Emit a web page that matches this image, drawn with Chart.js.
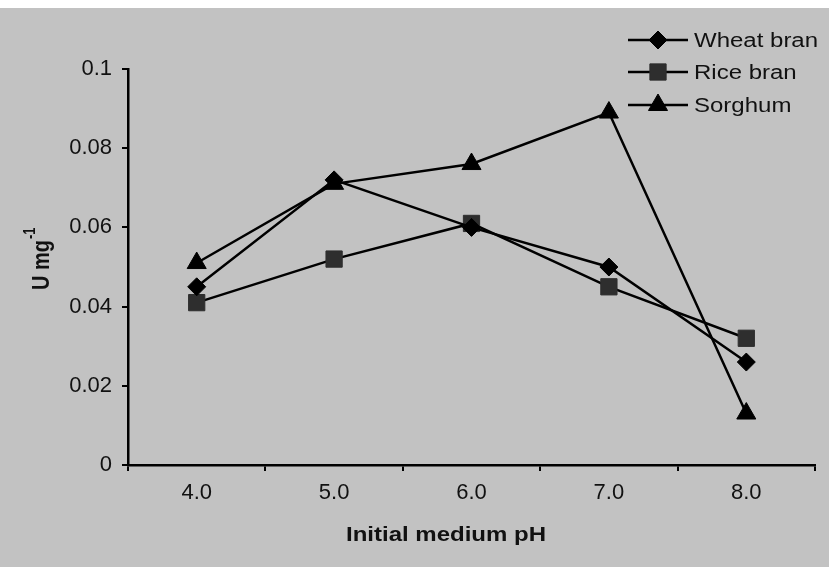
<!DOCTYPE html>
<html>
<head>
<meta charset="utf-8">
<script src="https://cdn.jsdelivr.net/npm/chart.js@4.4.1/dist/chart.umd.min.js"></script>
<style>
  html, body { margin: 0; padding: 0; }
  body {
    width: 829px; height: 567px; overflow: hidden;
    background: linear-gradient(#ffffff 0 8px, #c2c2c2 8px);
  }
  #chart { display: block; }
</style>
</head>
<body>
<canvas id="chart" width="829" height="567"></canvas>
<script>
const phLabels = ["4.0", "5.0", "6.0", "7.0", "8.0"];
const wheatBran = [0.045, 0.072, 0.060, 0.050, 0.026];
const riceBran = [0.041, 0.052, 0.061, 0.045, 0.032];
const sorghum = [0.051, 0.071, 0.076, 0.089, 0.013];
const yTickLabels = ["0", "0.02", "0.04", "0.06", "0.08", "0.1"];

const FONT = "'Liberation Sans', Arial, Helvetica, sans-serif";
const STRETCH = 1.2; // scanned text is a bit wider than normal

function stretchedText(ctx, text, x, y, font, align) {
    ctx.save();
    ctx.font = font;
    ctx.textBaseline = "middle";
    ctx.textAlign = align || "left";
    ctx.translate(x, y);
    ctx.scale(STRETCH, 1);
    ctx.fillText(text, 0, 0);
    ctx.restore();
}

// legend with line + marker, plus the axis titles
const extrasPlugin = {
    id: "extras",
    afterDraw(chart) {
        const ctx = chart.ctx;
        ctx.fillStyle = "#111";

        // x title
        stretchedText(ctx, "Initial medium pH", 446, 535, "bold 20px " + FONT, "center");

        // y title, rotated with superscript
        ctx.save();
        ctx.translate(42, 290);
        ctx.scale(STRETCH, 1);
        ctx.rotate(-Math.PI / 2);
        ctx.textBaseline = "middle";
        ctx.textAlign = "left";
        ctx.font = "bold 20px " + FONT;
        ctx.fillText("U mg", 0, 0);
        const w = ctx.measureText("U mg").width;
        ctx.font = "bold 13px " + FONT;
        ctx.fillText("-1", w + 1, -9);
        ctx.restore();

        // legend
        const rowY = [40, 72, 105];
        chart.data.datasets.forEach((ds, i) => {
            const y = rowY[i];
            ctx.save();
            ctx.strokeStyle = "#000";
            ctx.lineWidth = 2.5;
            ctx.beginPath();
            ctx.moveTo(628, y);
            ctx.lineTo(688, y);
            ctx.stroke();
            ctx.fillStyle = ds.pointBackgroundColor;
            ctx.strokeStyle = ds.pointBorderColor;
            ctx.lineWidth = 1;
            Chart.helpers.drawPoint(ctx, {
                pointStyle: ds.pointStyle,
                radius: ds.pointRadius,
                rotation: 0,
                borderWidth: 1
            }, 658, y);
            ctx.restore();
            ctx.fillStyle = "#111";
            stretchedText(ctx, ds.label, 694, y + 1, "20px " + FONT, "left");
        });
    }
};

function makeSet(label, data, style, radius, fill) {
    return {
        label,
        data,
        borderColor: "#000",
        borderWidth: 2.5,
        tension: 0,
        pointStyle: style,
        pointRadius: radius,
        pointHoverRadius: radius,
        pointBackgroundColor: fill,
        pointBorderColor: fill,
        pointBorderWidth: 1
    };
}

new Chart(document.getElementById("chart"), {
    type: "line",
    data: {
        labels: phLabels,
        datasets: [
            makeSet("Wheat bran", wheatBran, "rectRot", 9, "#000"),
            makeSet("Rice bran", riceBran, "rect", 11.5, "#2e2e2e"),
            makeSet("Sorghum", sorghum, "triangle", 11, "#000")
        ]
    },
    options: {
        responsive: false,
        animation: false,
        events: [],
        clip: false,
        layout: { padding: { top: 69, right: 14, left: 0, bottom: 0 } },
        plugins: {
            legend: { display: false },
            tooltip: { enabled: false }
        },
        scales: {
            x: {
                type: "category",
                offset: true,
                afterFit(scale) { scale.height = 102; },
                grid: {
                    offset: true,
                    drawOnChartArea: false,
                    drawTicks: true,
                    tickLength: 6,
                    color: "#000",
                    lineWidth: 2
                },
                border: { display: true, color: "#000", width: 2.5 },
                ticks: {
                    color: "#111",
                    padding: 9,
                    maxRotation: 0,
                    font: { family: FONT, size: 22 }
                }
            },
            y: {
                min: 0,
                max: 0.1,
                afterFit(scale) { scale.width = 128; },
                grid: {
                    drawOnChartArea: false,
                    drawTicks: true,
                    tickLength: 6,
                    color: "#000",
                    lineWidth: 2
                },
                border: { display: true, color: "#000", width: 2.5 },
                ticks: {
                    stepSize: 0.02,
                    color: "#111",
                    padding: 10,
                    font: { family: FONT, size: 22 },
                    callback: (value, index) => yTickLabels[index]
                }
            }
        }
    },
    plugins: [extrasPlugin]
});
</script>
</body>
</html>
